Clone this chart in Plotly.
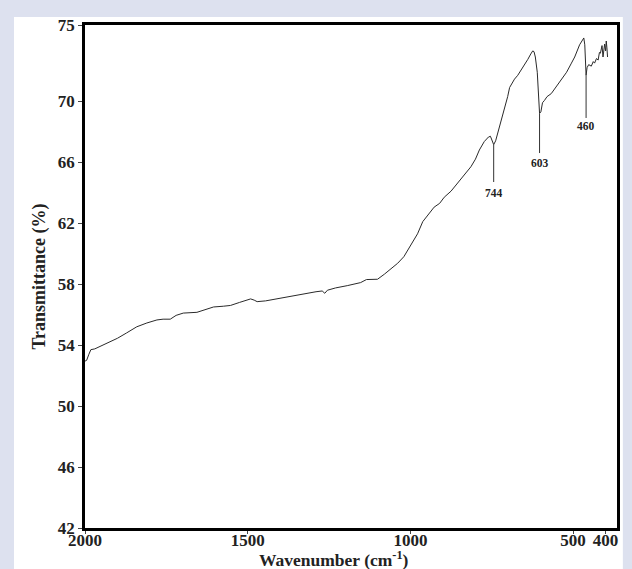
import plotly.graph_objects as go

# FTIR spectrum: wavenumber (cm-1) vs transmittance (%)
wavenumber = [
    2000, 1995, 1988, 1982, 1970, 1954, 1930, 1900, 1872, 1841, 1810, 1779,
    1760, 1738, 1720, 1698, 1656, 1630, 1605, 1575, 1553, 1525, 1502, 1491,
    1480, 1471, 1445, 1420, 1395, 1368, 1340, 1317, 1290, 1271, 1263, 1255,
    1230, 1194, 1153, 1135, 1101, 1080, 1060, 1039, 1020, 1004, 990, 978,
    962, 945, 927, 910, 896, 875, 860, 840, 814, 800, 788, 773, 760, 754,
    748, 744, 738, 730, 721, 710, 701, 695, 688, 680, 670, 659, 649, 639,
    630, 624, 620, 616, 610, 606, 603, 599, 594, 588, 580, 567, 550, 536,
    520, 505, 495, 480, 470, 467, 464, 461, 460, 457, 452, 444, 438, 434,
    428, 423, 419, 416, 413, 411, 408, 405, 403, 400, 398, 396, 394,
]
transmittance = [
    52.95, 53.0, 53.4, 53.7, 53.75, 53.9, 54.15, 54.45, 54.8, 55.2, 55.45, 55.65,
    55.7, 55.7, 55.95, 56.1, 56.15, 56.35, 56.5, 56.55, 56.6, 56.8, 56.96, 57.03,
    56.95, 56.85, 56.9, 57.0, 57.1, 57.2, 57.33, 57.44, 57.5, 57.55, 57.4, 57.6,
    57.75, 57.9, 58.1, 58.3, 58.32, 58.65, 59.0, 59.37, 59.8, 60.35, 60.9, 61.3,
    62.1, 62.6, 63.05, 63.3, 63.7, 64.1, 64.5, 65.0, 65.7, 66.2, 66.8, 67.35, 67.65, 67.7,
    67.4, 67.15, 67.4, 68.0, 68.8, 69.6, 70.3, 70.9, 71.2, 71.45, 71.7, 72.05, 72.4, 72.75,
    73.1, 73.3, 73.25, 72.9, 71.9, 70.3, 69.2, 69.3, 69.9, 70.05, 70.3, 70.5, 71.0, 71.45,
    71.9, 72.5, 72.9, 73.7, 74.0, 74.15, 73.7, 72.4, 71.7, 72.2, 72.4, 72.3, 72.6, 72.5,
    72.8, 72.7, 73.2, 73.15, 73.5, 73.65, 72.9, 73.5, 73.75, 73.3, 73.95, 73.5, 72.9,
]

# Labelled absorption bands: position, band minimum, bottom of leader, label height
peak_pos = [744, 603, 460]
peak_min = [67.15, 69.2, 71.7]
leader_end = [64.7, 66.6, 68.9]
label_y = [64.0, 65.95, 68.4]

x_ticks = [2000, 1500, 1000, 500, 400]
y_ticks = [42, 46, 50, 54, 58, 62, 66, 70, 75]

serif = "Liberation Serif"

fig = go.Figure()
fig.add_trace(go.Scatter(
    x=wavenumber, y=transmittance, mode="lines",
    line=dict(color="#2a2a2a", width=1), showlegend=False, hoverinfo="skip",
))

for p, lo, hi, ly in zip(peak_pos, peak_min, leader_end, label_y):
    fig.add_shape(type="line", xref="x", yref="y", x0=p, x1=p, y0=lo, y1=hi,
                  line=dict(color="#333333", width=1))
    fig.add_annotation(x=p, y=ly, xref="x", yref="y", text=str(p), showarrow=False,
                       font=dict(family=serif, size=11.5, color="#222222", weight="bold"))

# x-axis title, set just under the tick labels
fig.add_annotation(x=0.468, y=-0.062, xref="paper", yref="paper",
                   xanchor="center", yanchor="middle", showarrow=False,
                   text="Wavenumber (cm<sup>-1</sup>)",
                   font=dict(family=serif, size=17.5, color="#222222", weight="bold"))

# white panel on the tinted page
fig.add_shape(type="rect", xref="paper", yref="paper", layer="below",
              x0=-0.1335, x1=1.011, y0=-0.12, y1=1.016,
              fillcolor="white", line=dict(width=0))

fig.update_layout(
    width=632, height=569,
    margin=dict(l=85, r=15, t=25, b=41, autoexpand=False),
    paper_bgcolor="#dde1ef", plot_bgcolor="white",
    font=dict(family=serif, color="#222222"),
    xaxis=dict(
        range=[2000, 365], tickvals=x_ticks, ticktext=[str(v) for v in x_ticks],
        showgrid=False, zeroline=False, showline=True, mirror=True, automargin=False,
        linecolor="black", linewidth=2.5, ticks="outside", ticklen=3, tickwidth=1,
        ticklabelstandoff=-8,
        tickfont=dict(family=serif, size=17, weight="bold"),
    ),
    yaxis=dict(
        range=[42, 75], tickvals=y_ticks, ticktext=[str(v) for v in y_ticks],
        showgrid=False, zeroline=False, showline=True, mirror=True, automargin=False,
        linecolor="black", linewidth=2.5, ticks="outside", ticklen=4, tickwidth=1,
        tickfont=dict(family=serif, size=17, weight="bold"),
        title=dict(text="Transmittance (%)", standoff=8,
                   font=dict(family=serif, size=18, weight="bold")),
    ),
)

fig.write_html("out.html")
